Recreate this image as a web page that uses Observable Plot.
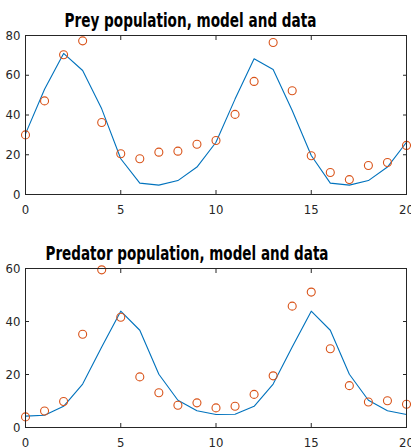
<!DOCTYPE html>
<html>
<head>
<meta charset="utf-8">
<script src="https://cdn.jsdelivr.net/npm/d3@7"></script>
<script src="https://cdn.jsdelivr.net/npm/@observablehq/plot@0.6"></script>
<style>
  html, body { margin: 0; padding: 0; background: #fff; }
  #wrap { position: relative; width: 411px; height: 447px; overflow: hidden; }
  #wrap svg { position: absolute; left: 0; overflow: visible; }
</style>
</head>
<body>
<div id="wrap"></div>
<script>
const time = [0,1,2,3,4,5,6,7,8,9,10,11,12,13,14,15,16,17,18,19,20];
const preyModel = [30.5,53,71,62.4,43.1,18,5.7,4.7,7,13.8,26.3,48,68.3,62.9,42.3,19.6,5.7,4.7,7,13.8,26.3];
const preyData = [30,47.1,70.3,77.3,36.2,20.5,18,21.3,21.8,25.3,27.2,40.3,56.9,76.5,52.2,19.5,11.1,7.5,14.6,16.1,24.7];
const predModel = [4.3,4.65,8,16.4,30.4,43.9,36.7,20.1,10.3,6.3,4.9,5,8,16.4,30.4,43.9,36.7,20.1,10.3,6.3,4.9];
const predData = [4,6.2,9.8,35.2,59.5,41.6,19.1,13.1,8.4,9.3,7.4,8,12.5,19.5,45.8,51.1,29.7,15.8,9.6,10.1,8.8];
const xTicks = [0,5,10,15,20];
const preyYTicks = [0,20,40,60,80];
const predYTicks = [0,20,40,60];
const titles = ["Prey population, model and data", "Predator population, model and data"];

const FONT = "'Liberation Sans Narrow', 'DejaVu Sans Condensed', sans-serif";
const AX = "#262626";

function panel({model, data, yMax, yTicks, title, height, marginBottom, titleDx, titleWidth}) {
  const rows = time.map((t, i) => ({t, model: model[i], data: data[i]}));
  const svg = Plot.plot({
    width: 411,
    height,
    marginLeft: 25,
    marginRight: 5,
    marginTop: 35,
    marginBottom,
    style: {fontFamily: FONT, fontSize: "13px", color: AX, background: "transparent", overflow: "visible"},
    x: {domain: [0, 20], label: null},
    y: {domain: [0, yMax], label: null},
    marks: [
      Plot.line(rows, {x: "t", y: "model", stroke: "#0072BD", strokeWidth: 1.1}),
      Plot.dot(rows, {x: "t", y: "data", r: 4, stroke: "#D95319", fill: "none", strokeWidth: 1.1}),
      Plot.axisX(xTicks, {anchor: "bottom", tickSize: 0, tickPadding: 10, fontSize: 13, fill: AX, label: null}),
      Plot.axisX(xTicks, {anchor: "bottom", tickSize: -4, text: null, stroke: AX, label: null}),
      Plot.axisX(xTicks, {anchor: "top", tickSize: -4, text: null, stroke: AX, label: null}),
      Plot.axisY(yTicks, {anchor: "left", tickSize: 0, tickPadding: 5, fontSize: 13, fill: AX, label: null}),
      Plot.axisY(yTicks, {anchor: "left", tickSize: -4, text: null, stroke: AX, label: null}),
      Plot.axisY(yTicks, {anchor: "right", tickSize: -4, text: null, stroke: AX, label: null}),
      Plot.frame({stroke: AX, strokeWidth: 1}),
      Plot.text([title], {frameAnchor: "top-left", dx: titleDx, dy: -9, textAnchor: "start", lineAnchor: "bottom",
        fontSize: 20, fontWeight: "bold", fill: "#000", className: "ttl"})
    ]
  });
  d3.select(svg).selectAll(".ttl text")
    .attr("textLength", titleWidth)
    .attr("lengthAdjust", "spacingAndGlyphs");
  return svg;
}

const wrap = document.getElementById("wrap");
const s1 = panel({model: preyModel, data: preyData, yMax: 80, yTicks: preyYTicks, title: titles[0],
  height: 225, marginBottom: 31, titleDx: 39, titleWidth: 252});
s1.style.top = "0px";
wrap.appendChild(s1);
const s2 = panel({model: predModel, data: predData, yMax: 60, yTicks: predYTicks, title: titles[1],
  height: 225, marginBottom: 31, titleDx: 20, titleWidth: 283});
s2.style.top = "233px";
wrap.appendChild(s2);
</script>
</body>
</html>
